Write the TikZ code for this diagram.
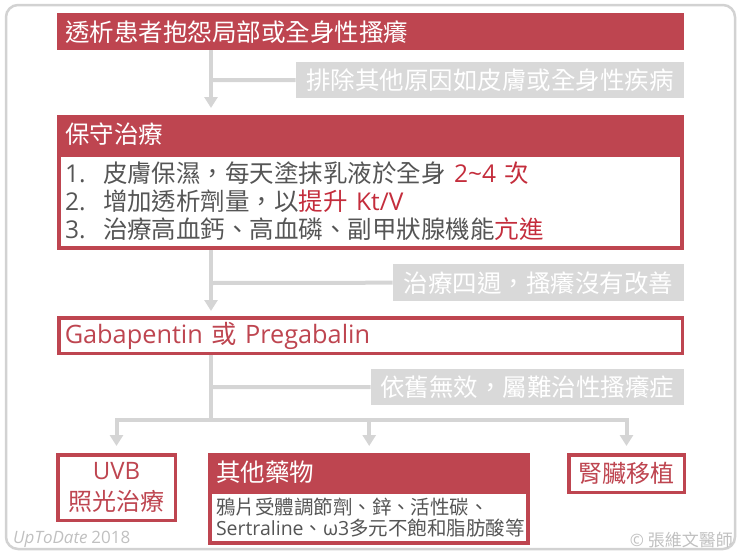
\documentclass[tikz,border=0pt]{standalone}
\usepackage{fontspec}
\setmainfont{Noto Sans CJK TC}[Script=CJK,Language=Chinese Traditional]
\newfontfamily\latf{Open Sans}
\newcommand\lt[1]{{\latf #1}}
\usetikzlibrary{arrows.meta}
\definecolor{ured}{RGB}{190,69,80}
\definecolor{utred}{RGB}{196,45,60}
\definecolor{ugray}{RGB}{217,217,217}
\definecolor{uline}{RGB}{213,213,213}
\definecolor{uframe}{RGB}{210,210,210}
\definecolor{utext}{RGB}{85,85,85}
\definecolor{ufoot}{RGB}{192,192,192}
\tikzstyle{hdr}=[fill=ured,text=white,anchor=north west,inner xsep=8pt,inner ysep=0pt,align=left,font=\fontsize{24.5}{28}\selectfont]
\tikzstyle{note}=[fill=ugray,text=white,anchor=north east,inner sep=0pt,minimum height=36pt,font=\fontsize{24.5}{28}\selectfont]
\tikzstyle{redbox}=[draw=ured,line width=3.5pt,fill=white,text=ured,anchor=north west,inner sep=0pt,font=\fontsize{24}{31}\selectfont]
\tikzstyle{listbox}=[draw=ured,line width=4pt,fill=white,text=utext,anchor=north west,inner xsep=6pt,inner ysep=3pt,align=left]
\tikzstyle{flow}=[draw=uline,line width=4pt,-{Triangle[length=11pt,width=13pt]}]
\tikzstyle{branch}=[draw=uline,line width=4pt]
\tikzstyle{foot}=[text=ufoot,inner sep=0pt,font=\fontsize{17}{20}\selectfont]

\begin{document}
\begin{tikzpicture}[x=1pt,y=-1pt]
\useasboundingbox (0,0) rectangle (740,555);
\draw[draw=uframe,line width=2.5pt,rounded corners=12pt] (6,5) rectangle (735,549);
% boxes
\node[hdr,text width=611pt,minimum height=37pt] (start) at (57,13) {透析患者抱怨局部或全身性搔癢};
\node[note,minimum width=388pt] (excl) at (684,62) {排除其他原因如皮膚或全身性疾病};
\node[hdr,text width=611pt,minimum height=38pt] (care) at (57,115) {保守治療};
\node[listbox,text width=611pt,minimum height=93pt,font=\fontsize{24.5}{28}\selectfont] (carelist) at (57,153) {\makebox[38pt][l]{\lt{1.}}皮膚保濕，每天塗抹乳液於全身 \textcolor{utred}{\lt{2\textasciitilde4} 次}\\ \makebox[38pt][l]{\lt{2.}}增加透析劑量，以\textcolor{utred}{提升 \lt{Kt/V}}\\ \makebox[38pt][l]{\lt{3.}}治療高血鈣、高血磷、副甲狀腺機能\textcolor{utred}{亢進}};
\node[note,minimum width=291pt,minimum height=37pt] (fail1) at (684,264) {治療四週，搔癢沒有改善};
\node[redbox,text width=611.5pt,minimum height=35.5pt,inner xsep=6pt,align=left,font=\fontsize{25.3}{28}\selectfont] (gaba) at (57,316) {\lt{Gabapentin} 或 \lt{Pregabalin}};
\node[note,minimum width=313pt] (fail2) at (684,369) {依舊無效，屬難治性搔癢症};
\node[redbox,align=center,minimum width=117.5pt,minimum height=65.5pt] (uvb) at (56,453) {\lt{UVB}\\照光治療};
\node[hdr,text width=306pt,minimum height=37pt] (drug) at (208,453) {其他藥物};
\node[listbox,text width=306pt,minimum height=51pt,font=\fontsize{19.5}{21}\selectfont] (druglist) at (208,490) {鴉片受體調節劑、鋅、活性碳、\\ \lt{Sertraline}、\lt{ω3}多元不飽和脂肪酸等};
\node[redbox,minimum width=115.5pt,minimum height=37.5pt] (kidney) at (567,453) {腎臟移植};
% connectors
\coordinate (j1) at (211,80);
\coordinate (j2) at (211,283);
\coordinate (j3) at (211,387);
\coordinate (j4) at (211,420);
\draw[flow,shorten >=7pt] (start.south -| j1) -- (care.north -| j1);
\draw[branch] (j1) -- (excl.west);
\draw[flow,shorten >=5pt] (carelist.south -| j2) -- (gaba.north -| j2);
\draw[branch] (j2) -- (fail1.west);
\draw[branch] (gaba.south -| j3) -- (j4);
\draw[branch] (j3) -- (fail2.west);
\draw[flow,shorten >=7pt] (j4) -| (uvb.north);
\draw[flow,shorten >=7pt] (j4) -| (kidney.north);
\draw[flow,shorten >=7pt] (j4 -| drug.north) -- (drug.north);
% footer
\node[foot,anchor=south west] (src) at (13,548) {\lt{\itshape UpToDate} \lt{2018}};
\node[foot,anchor=south east] (copy) at (733,548) {\lt{©} 張維文醫師};
\end{tikzpicture}
\end{document}
